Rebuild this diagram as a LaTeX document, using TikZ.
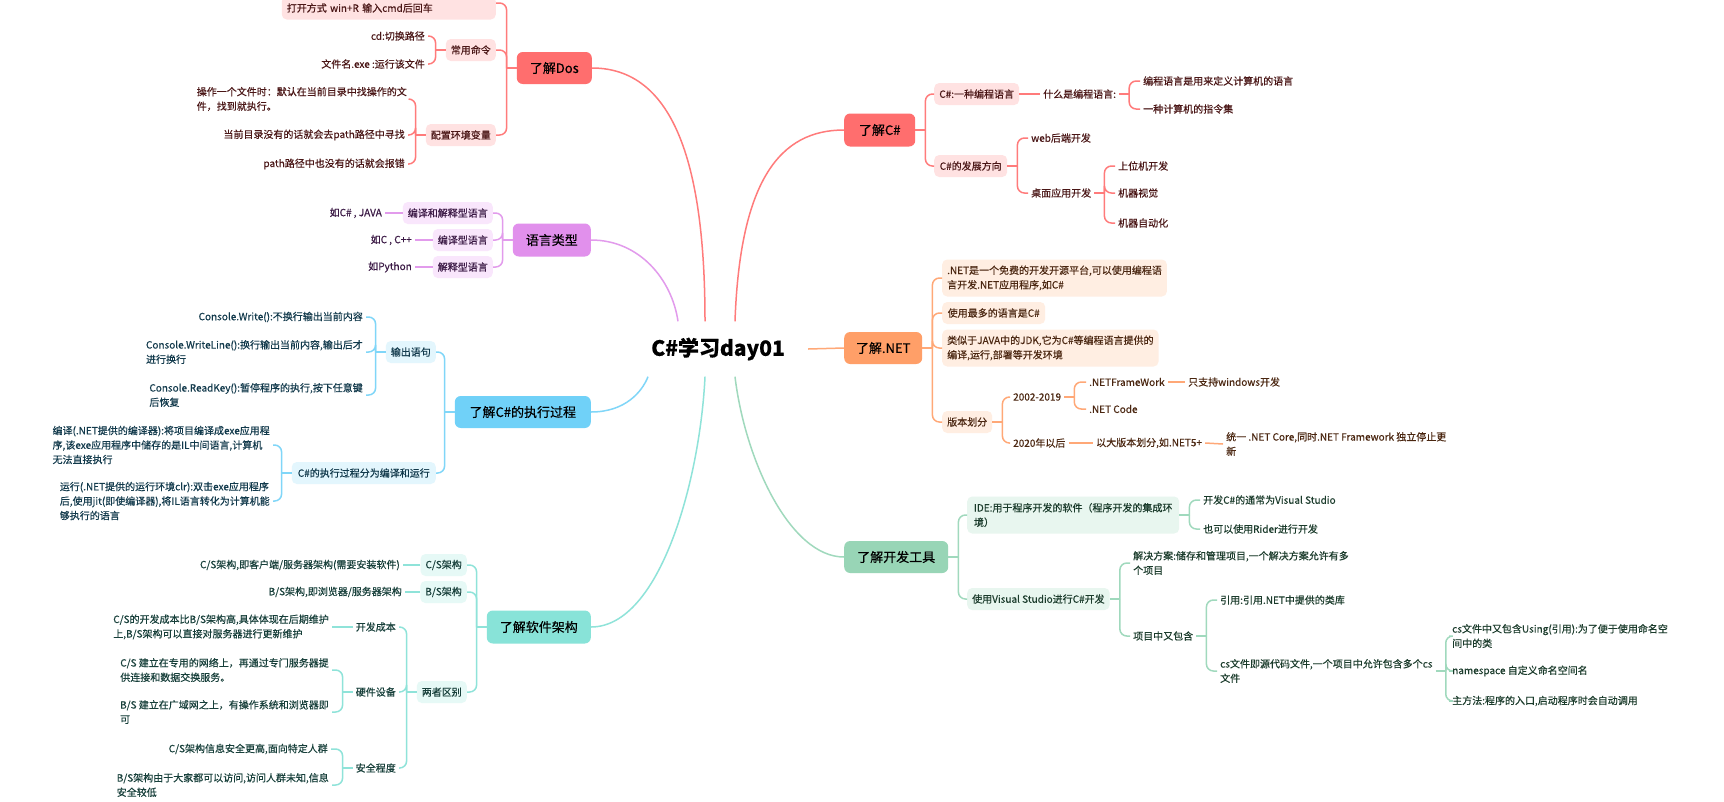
\documentclass[tikz,border=0pt]{standalone}
\usepackage{fontspec}
\setmainfont{Noto Sans CJK SC}[FakeBold=0.35]
\definecolor{redM}{HTML}{FF6E6E}
\definecolor{redS}{HTML}{FFE2E2}
\definecolor{redL}{HTML}{FF7B7B}
\definecolor{redT}{HTML}{4A1616}
\definecolor{purM}{HTML}{E190EC}
\definecolor{purS}{HTML}{F9E6FC}
\definecolor{purL}{HTML}{E29BEC}
\definecolor{purT}{HTML}{3A1844}
\definecolor{bluM}{HTML}{70D1F8}
\definecolor{bluS}{HTML}{E3F6FD}
\definecolor{bluL}{HTML}{80D6F8}
\definecolor{bluT}{HTML}{11394B}
\definecolor{teaM}{HTML}{88E3D8}
\definecolor{teaS}{HTML}{E6F9F6}
\definecolor{teaL}{HTML}{8FE3D9}
\definecolor{teaT}{HTML}{173F3A}
\definecolor{oraM}{HTML}{FF9F68}
\definecolor{oraS}{HTML}{FFEEE2}
\definecolor{oraL}{HTML}{FFA877}
\definecolor{oraT}{HTML}{4A2610}
\definecolor{greM}{HTML}{98D5B6}
\definecolor{greS}{HTML}{E8F6EF}
\definecolor{greL}{HTML}{A0D9BD}
\definecolor{greT}{HTML}{1A3B2B}
\tikzset{
  txt/.style={font=\fontsize{10}{14.5}\selectfont},
  mainb/.style={rounded corners=6pt, minimum height=32pt, inner xsep=4pt, font=\fontsize{13}{16}\selectfont, text=black},
  subb/.style={txt, rounded corners=5pt, minimum height=22pt, inner xsep=5pt, inner ysep=4pt, align=left},
  twob/.style={subb, minimum height=37pt},
  leaf/.style={txt, inner xsep=3pt, inner ysep=2pt, align=left},
  conn/.style={line width=1.5pt, rounded corners=7pt},
  trunk/.style={line width=1.5pt},
}
\begin{document}
\begin{tikzpicture}[x=1pt, y=-1pt]
\useasboundingbox[fill=white] (0,0) rectangle (1724,801);

% root
\node[minimum width=180pt, minimum height=55pt, inner sep=0pt, font=\fontsize{21}{25}\selectfont\bfseries] (root) at (718,349) {C\#学习day01};

% ---------------- main topics
\node[mainb, fill=redM, minimum width=75pt, anchor=east] (dos) at (592,68) {了解Dos};
\node[mainb, fill=purM, minimum width=78pt, minimum height=33pt, anchor=east] (lang) at (591,240) {语言类型};
\node[mainb, fill=bluM, minimum width=136pt, anchor=east] (exec) at (591,412) {了解C\#的执行过程};
\node[mainb, fill=teaM, minimum width=104pt, minimum height=33pt, anchor=east] (arch) at (591,627) {了解软件架构};
\node[mainb, fill=redM, minimum width=71pt, minimum height=33pt, anchor=west] (cs) at (844,130) {了解C\#};
\node[mainb, fill=oraM, minimum width=78pt, anchor=west] (net) at (844,348) {了解.NET};
\node[mainb, fill=greM, minimum width=104pt, anchor=west] (tool) at (844,557) {了解开发工具};

\draw[trunk, redL] (dos.east) .. controls (680,68) and (705,180) .. ([xshift=-13pt]root.north);
\draw[trunk, purL] (lang.east) .. controls (640,240) and (672,280) .. ([xshift=-40pt]root.north);
\draw[trunk, bluL] (exec.east) .. controls (625,412) and (642,392) .. ([xshift=-70pt]root.south);
\draw[trunk, teaL] (arch.east) .. controls (660,627) and (700,480) .. ([xshift=-13pt]root.south);
\draw[trunk, redL] ([xshift=17pt]root.north) .. controls (740,180) and (780,130) .. (cs.west);
\draw[trunk, oraL] (root.east) -- (net.west);
\draw[trunk, greL] ([xshift=17pt]root.south) .. controls (745,460) and (790,557) .. (tool.west);

% ---------------- 了解Dos
\node[subb, fill=redS, text=redT, text width=204pt, minimum height=23pt, anchor=east] (dosOpen) at (496,8) {打开方式 win+R 输入cmd后回车};
\node[subb, fill=redS, text=redT, minimum width=48pt, anchor=east] (dosCmd) at (496,50) {常用命令};
\node[subb, fill=redS, text=redT, minimum width=68pt, anchor=east] (dosEnv) at (496,135) {配置环境变量};
\node[leaf, text=redT, anchor=east] (cd) at (428,36) {cd:切换路径};
\node[leaf, text=redT, anchor=east] (exe) at (428,64) {文件名.exe :运行该文件};
\node[leaf, text=redT, anchor=east] (env1) at (410,99) {操作一个文件时：默认在当前目录中找操作的文\\件，找到就执行。};
\node[leaf, text=redT, anchor=east] (env2) at (408,135) {当前目录没有的话就会去path路径中寻找};
\node[leaf, text=redT, anchor=east] (env3) at (408,164) {path路径中也没有的话就会报错};
\draw[conn, redL] (dos.west) -- ++(-10pt,0);
\draw[conn, redL] ([xshift=-10pt]dos.west) |- ([yshift=5pt]dosOpen.east);
\foreach \c in {dosCmd,dosEnv} \draw[conn, redL] ([xshift=-10pt]dos.west) |- (\c.east);
\draw[conn, redL] (dosCmd.west) -- ++(-10pt,0);
\foreach \c in {cd,exe} \draw[conn, redL] ([xshift=-10pt]dosCmd.west) |- (\c.east);
\draw[conn, redL] (dosEnv.west) -- ++(-10pt,0);
\foreach \c in {env1,env2,env3} \draw[conn, redL] ([xshift=-10pt]dosEnv.west) |- (\c.east);

% ---------------- 语言类型
\node[subb, fill=purS, text=purT, minimum width=88pt, anchor=east] (l1) at (493,213) {编译和解释型语言};
\node[subb, fill=purS, text=purT, minimum width=58pt, anchor=east] (l2) at (493,240) {编译型语言};
\node[subb, fill=purS, text=purT, minimum width=58pt, anchor=east] (l3) at (493,267) {解释型语言};
\node[leaf, text=purT, anchor=east] (l1a) at (385,213) {如C\# , JAVA};
\node[leaf, text=purT, anchor=east] (l2a) at (415,240) {如C , C++};
\node[leaf, text=purT, anchor=east] (l3a) at (415,267) {如Python};
\draw[conn, purL] (lang.west) -- ++(-10pt,0);
\foreach \c in {l1,l2,l3} \draw[conn, purL] ([xshift=-10pt]lang.west) |- (\c.east);
\draw[conn, purL] (l1.west) -- (l1a.east);
\draw[conn, purL] (l2.west) -- (l2a.east);
\draw[conn, purL] (l3.west) -- (l3a.east);

% ---------------- 了解C#的执行过程
\node[subb, fill=bluS, text=bluT, minimum width=48pt, anchor=east] (out) at (436,352) {输出语句};
\node[subb, fill=bluS, text=bluT, minimum width=144pt, anchor=east] (run) at (436,473) {C\#的执行过程分为编译和运行};
\node[leaf, text=bluT, anchor=east] (w1) at (366,317) {Console.Write():不换行输出当前内容};
\node[leaf, text=bluT, anchor=east] (w2) at (366,352) {Console.WriteLine():换行输出当前内容,输出后才\\进行换行};
\node[leaf, text=bluT, anchor=east] (w3) at (366,395) {Console.ReadKey():暂停程序的执行,按下任意键\\后恢复};
\node[leaf, text=bluT, anchor=east] (c1) at (273,445) {编译(.NET提供的编译器):将项目编译成exe应用程\\序,该exe应用程序中储存的是IL中间语言,计算机\\无法直接执行};
\node[leaf, text=bluT, anchor=east] (c2) at (273,501) {运行(.NET提供的运行环境clr):双击exe应用程序\\后,使用jit(即使编译器),将IL语言转化为计算机能\\够执行的语言};
\draw[conn, bluL] (exec.west) -- ++(-10pt,0);
\foreach \c in {out,run} \draw[conn, bluL] ([xshift=-10pt]exec.west) |- (\c.east);
\draw[conn, bluL] (out.west) -- ++(-10pt,0);
\foreach \c in {w1,w2,w3} \draw[conn, bluL] ([xshift=-10pt]out.west) |- (\c.east);
\draw[conn, bluL] (run.west) -- ++(-10pt,0);
\foreach \c in {c1,c2} \draw[conn, bluL] ([xshift=-10pt]run.west) |- (\c.east);

% ---------------- 了解软件架构
\node[subb, fill=teaS, text=teaT, minimum width=43pt, anchor=east] (csA) at (467,565) {C/S架构};
\node[subb, fill=teaS, text=teaT, minimum width=43pt, anchor=east] (bsA) at (467,592) {B/S架构};
\node[subb, fill=teaS, text=teaT, minimum width=48pt, anchor=east] (diff) at (467,692) {两者区别};
\node[leaf, text=teaT, anchor=east] (csAa) at (403,565) {C/S架构,即客户端/服务器架构(需要安装软件)};
\node[leaf, text=teaT, anchor=east] (bsAa) at (405,592) {B/S架构,即浏览器/服务器架构};
\node[leaf, text=teaT, anchor=east] (cost) at (399,627) {开发成本};
\node[leaf, text=teaT, anchor=east] (hw) at (399,692) {硬件设备};
\node[leaf, text=teaT, anchor=east] (sec) at (399,768) {安全程度};
\node[leaf, text=teaT, anchor=east] (costL) at (332,627) {C/S的开发成本比B/S架构高,具体体现在后期维护\\上,B/S架构可以直接对服务器进行更新维护};
\node[leaf, text=teaT, anchor=east] (hw1) at (332,670) {C/S 建立在专用的网络上，再通过专门服务器提\\供连接和数据交换服务。};
\node[leaf, text=teaT, anchor=east] (hw2) at (332,712) {B/S 建立在广域网之上，有操作系统和浏览器即\\可};
\node[leaf, text=teaT, anchor=east] (sec1) at (331,749) {C/S架构信息安全更高,面向特定人群};
\node[leaf, text=teaT, anchor=east] (sec2) at (332,785) {B/S架构由于大家都可以访问,访问人群未知,信息\\安全较低};
\draw[conn, teaL] (arch.west) -- ++(-10pt,0);
\foreach \c in {csA,bsA,diff} \draw[conn, teaL] ([xshift=-10pt]arch.west) |- (\c.east);
\draw[conn, teaL] (csA.west) -- (csAa.east);
\draw[conn, teaL] (bsA.west) -- (bsAa.east);
\draw[conn, teaL] (diff.west) -- ++(-10pt,0);
\foreach \c in {cost,hw,sec} \draw[conn, teaL] ([xshift=-10pt]diff.west) |- (\c.east);
\draw[conn, teaL] (cost.west) -- (costL.east);
\draw[conn, teaL] (hw.west) -- ++(-10pt,0);
\foreach \c in {hw1,hw2} \draw[conn, teaL] ([xshift=-10pt]hw.west) |- (\c.east);
\draw[conn, teaL] (sec.west) -- ++(-10pt,0);
\foreach \c in {sec1,sec2} \draw[conn, teaL] ([xshift=-10pt]sec.west) |- (\c.east);

% ---------------- 了解C#
\node[subb, fill=redS, text=redT, minimum width=85pt, anchor=west] (cs1) at (934,94) {C\#:一种编程语言};
\node[subb, fill=redS, text=redT, minimum width=73pt, anchor=west] (cs2) at (934,166) {C\#的发展方向};
\node[leaf, text=redT, anchor=west] (what) at (1040,94) {什么是编程语言:};
\node[leaf, text=redT, anchor=west] (d1) at (1140,81) {编程语言是用来定义计算机的语言};
\node[leaf, text=redT, anchor=west] (d2) at (1140,109) {一种计算机的指令集};
\node[leaf, text=redT, anchor=west] (web) at (1028,138) {web后端开发};
\node[leaf, text=redT, anchor=west] (desk) at (1028,193) {桌面应用开发};
\node[leaf, text=redT, anchor=west] (p1) at (1115,166) {上位机开发};
\node[leaf, text=redT, anchor=west] (p2) at (1115,193) {机器视觉};
\node[leaf, text=redT, anchor=west] (p3) at (1115,223) {机器自动化};
\draw[conn, redL] (cs.east) -- ++(10pt,0);
\foreach \c in {cs1,cs2} \draw[conn, redL] ([xshift=10pt]cs.east) |- (\c.west);
\draw[conn, redL] (cs1.east) -- (what.west);
\draw[conn, redL] (what.east) -- ++(10pt,0);
\foreach \c in {d1,d2} \draw[conn, redL] ([xshift=10pt]what.east) |- (\c.west);
\draw[conn, redL] (cs2.east) -- ++(10pt,0);
\foreach \c in {web,desk} \draw[conn, redL] ([xshift=10pt]cs2.east) |- (\c.west);
\draw[conn, redL] (desk.east) -- ++(10pt,0);
\foreach \c in {p1,p2,p3} \draw[conn, redL] ([xshift=10pt]desk.east) |- (\c.west);

% ---------------- 了解.NET
\node[twob, fill=oraS, text=oraT, minimum width=222pt, anchor=west] (n1) at (942,278) {.NET是一个免费的开发开源平台,可以使用编程语\\言开发.NET应用程序,如C\#};
\node[subb, fill=oraS, text=oraT, minimum width=103pt, anchor=west] (n2) at (942,313) {使用最多的语言是C\#};
\node[twob, fill=oraS, text=oraT, minimum width=215pt, anchor=west] (n3) at (942,348) {类似于JAVA中的JDK,它为C\#等编程语言提供的\\编译,运行,部署等开发环境};
\node[subb, fill=oraS, text=oraT, minimum width=48pt, anchor=west] (n4) at (942,422) {版本划分};
\node[leaf, text=oraT, anchor=west] (y1) at (1010,397) {2002-2019};
\node[leaf, text=oraT, anchor=west] (y2) at (1010,443) {2020年以后};
\node[leaf, text=oraT, anchor=west] (f1) at (1086,382) {.NETFrameWork};
\node[leaf, text=oraT, anchor=west] (f2) at (1086,409) {.NET Code};
\node[leaf, text=oraT, anchor=west] (f1a) at (1185,382) {只支持windows开发};
\node[leaf, text=oraT, anchor=west] (g1) at (1093,443) {以大版本划分,如.NET5+};
\node[leaf, text=oraT, anchor=west] (g2) at (1223,444) {统一 .NET Core,同时.NET Framework 独立停止更\\新};
\draw[conn, oraL] (net.east) -- ++(10pt,0);
\foreach \c in {n1,n2,n3,n4} \draw[conn, oraL] ([xshift=10pt]net.east) |- (\c.west);
\draw[conn, oraL] (n4.east) -- ++(10pt,0);
\foreach \c in {y1,y2} \draw[conn, oraL] ([xshift=10pt]n4.east) |- (\c.west);
\draw[conn, oraL] (y1.east) -- ++(10pt,0);
\foreach \c in {f1,f2} \draw[conn, oraL] ([xshift=10pt]y1.east) |- (\c.west);
\draw[conn, oraL] (f1.east) -- (f1a.west);
\draw[conn, oraL] (y2.east) -- (g1.west);
\draw[conn, oraL] (g1.east) -- (g2.west);

% ---------------- 了解开发工具
\node[twob, fill=greS, text=greT, minimum width=212pt, anchor=west] (t1) at (967,515) {IDE:用于程序开发的软件（程序开发的集成环\\境）};
\node[subb, fill=greS, text=greT, minimum width=141pt, anchor=west] (t2) at (967,599) {使用Visual Studio进行C\#开发};
\node[leaf, text=greT, anchor=west] (t1a) at (1200,500) {开发C\#的通常为Visual Studio};
\node[leaf, text=greT, anchor=west] (t1b) at (1200,529) {也可以使用Rider进行开发};
\node[leaf, text=greT, anchor=west] (sol) at (1130,563) {解决方案:储存和管理项目,一个解决方案允许有多\\个项目};
\node[leaf, text=greT, anchor=west] (proj) at (1130,636) {项目中又包含};
\node[leaf, text=greT, anchor=west] (refl) at (1217,600) {引用:引用.NET中提供的类库};
\node[leaf, text=greT, anchor=west] (csf) at (1217,671) {cs文件即源代码文件,一个项目中允许包含多个cs\\文件};
\node[leaf, text=greT, anchor=west] (u1) at (1449,636) {cs文件中又包含Using(引用):为了便于使用命名空\\间中的类};
\node[leaf, text=greT, anchor=west] (u2) at (1449,671) {namespace 自定义命名空间名};
\node[leaf, text=greT, anchor=west] (u3) at (1449,701) {主方法:程序的入口,启动程序时会自动调用};
\draw[conn, greL] (tool.east) -- ++(10pt,0);
\foreach \c in {t1,t2} \draw[conn, greL] ([xshift=10pt]tool.east) |- (\c.west);
\draw[conn, greL] (t1.east) -- ++(10pt,0);
\foreach \c in {t1a,t1b} \draw[conn, greL] ([xshift=10pt]t1.east) |- (\c.west);
\draw[conn, greL] (t2.east) -- ++(10pt,0);
\foreach \c in {sol,proj} \draw[conn, greL] ([xshift=10pt]t2.east) |- (\c.west);
\draw[conn, greL] (proj.east) -- ++(10pt,0);
\foreach \c in {refl,csf} \draw[conn, greL] ([xshift=10pt]proj.east) |- (\c.west);
\draw[conn, greL] (csf.east) -- ++(10pt,0);
\foreach \c in {u1,u2,u3} \draw[conn, greL] ([xshift=10pt]csf.east) |- (\c.west);
\end{tikzpicture}
\end{document}
